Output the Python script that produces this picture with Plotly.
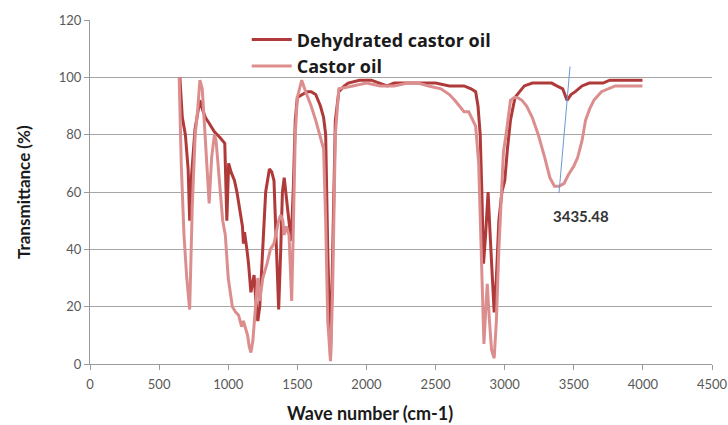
import plotly.graph_objects as go

# Dehydrated castor oil (wavenumber, transmittance)
dco_x = [650, 668, 690, 710, 721, 735, 760, 795, 812, 835, 862, 900, 940, 975, 990, 1003,
         1020, 1045, 1063, 1085, 1103, 1110, 1118, 1135, 1147, 1164, 1178, 1187, 1200, 1214, 1228,
         1250, 1271, 1298, 1315, 1331, 1345, 1355, 1365, 1380, 1392, 1405, 1420, 1440, 1455,
         1470, 1485, 1500, 1532, 1570, 1600, 1633, 1667, 1690, 1705, 1720, 1740, 1755, 1775, 1800,
         1840, 1868, 1950, 2035, 2100, 2150, 2200, 2300, 2400, 2500, 2600, 2706, 2757, 2790, 2807,
         2823, 2835, 2847, 2862, 2880, 2895, 2910, 2924, 2940, 2958, 2980, 3001, 3020, 3042,
         3075, 3142, 3200, 3276, 3340, 3377, 3420, 3451, 3480, 3511, 3560, 3612, 3712, 3760,
         3813, 3900, 3997]
dco_y = [100, 86, 80, 68, 50, 66, 82, 92, 89, 86, 84, 81, 79, 77, 50, 70,
         67, 64, 60, 54, 48, 42, 46, 40, 35, 25, 29, 31, 22, 15, 20,
         40, 60, 68, 67, 64, 45, 30, 19, 40, 60, 65, 58, 50, 43,
         60, 85, 93, 94, 95, 95, 94, 90, 86, 80, 40, 2, 40, 85, 95,
         97, 98, 99, 99, 98, 97, 98, 98, 98, 98, 97, 97, 96, 95, 90,
         80, 60, 35, 45, 60, 45, 30, 18, 30, 50, 60, 64, 75, 85,
         93, 97, 98, 98, 98, 97, 96, 92, 94, 95, 97, 98, 98, 99,
         99, 99, 99]

# Castor oil (wavenumber, transmittance)
co_x = [645, 660, 680, 700, 721, 740, 761, 778, 795, 812, 830, 845, 862, 880, 900, 912, 925,
        940, 960, 979, 1000, 1030, 1055, 1075, 1097, 1110, 1125, 1140, 1152, 1164, 1178, 1195,
        1214, 1228, 1250, 1281, 1305, 1331, 1350, 1365, 1380, 1395, 1405, 1420, 1440, 1452, 1459,
        1470, 1485, 1500, 1532, 1560, 1600, 1633, 1667, 1690, 1705, 1720, 1740, 1755, 1775, 1800,
        1901, 2000, 2100, 2200, 2300, 2371, 2450, 2539, 2600, 2639, 2706, 2740, 2790, 2812,
        2830, 2850, 2862, 2874, 2890, 2905, 2924, 2940, 2958, 2975, 2991, 3010, 3042, 3070,
        3092, 3125, 3159, 3200, 3243, 3290, 3327, 3360, 3394, 3430, 3461, 3500, 3528, 3560,
        3585, 3615, 3645, 3700, 3746, 3800, 3880, 3950, 3997]
co_y = [100, 70, 45, 30, 19, 55, 80, 88, 99, 96, 82, 68, 56, 72, 80, 78, 70,
        60, 50, 45, 30, 20, 18, 17, 13, 15, 12, 10, 6, 4, 8, 20,
        30, 22, 30, 35, 40, 42, 47, 50, 52, 50, 45, 48, 45, 30, 22,
        45, 80, 93, 99, 95, 90, 85, 79, 75, 50, 15, 1, 25, 80, 96,
        97, 98, 97, 97, 98, 98, 97, 96, 94, 92, 88, 88, 83, 70,
        40, 7, 18, 28, 15, 5, 2, 15, 40, 60, 74, 80, 92, 93,
        93, 92, 90, 86, 80, 72, 65, 62, 62, 63, 66, 69, 72, 78,
        85, 89, 92, 95, 96, 97, 97, 97, 97]

dark = "#b03a3a"
light = "#dc8e8e"
font = "Lato"

fig = go.Figure()
fig.add_trace(go.Scatter(x=dco_x, y=dco_y, mode="lines", name="Dehydrated castor oil",
                         line=dict(color=dark, width=3)))
fig.add_trace(go.Scatter(x=co_x, y=co_y, mode="lines", name="Castor oil",
                         line=dict(color=light, width=3)))

# marker line for the 3435.48 peak
fig.add_shape(type="line", xref="x", yref="y", x0=3393, y0=59.6, x1=3473, y1=103.8,
              line=dict(color="#6a98d6", width=1))
fig.add_annotation(x=3555, y=51.5, xref="x", yref="y", text="<b>3435.48</b>", showarrow=False,
                   font=dict(family=font, size=15, color="#333333"))

# axis titles
fig.add_annotation(x=0.45, y=0, xref="paper", yref="paper", yshift=-49, xanchor="center",
                   yanchor="middle", showarrow=False, text="<b>Wave number (cm-1)</b>",
                   font=dict(family=font, size=18, color="#1a1a1a"))
fig.add_annotation(x=0, y=0.5, xref="paper", yref="paper", xshift=-67, xanchor="center",
                   yanchor="middle", showarrow=False, textangle=-90, text="<b>Transmittance (%)</b>",
                   font=dict(family=font, size=17, color="#1a1a1a"))

fig.update_layout(
    width=728, height=425,
    margin=dict(l=90, r=16, t=20, b=61, autoexpand=False),
    paper_bgcolor="white", plot_bgcolor="white",
    font=dict(family=font, color="#595959", size=13),
    showlegend=True,
    legend=dict(x=0.252, y=0.996, xanchor="left", yanchor="top", bgcolor="rgba(0,0,0,0)",
                font=dict(family="Open Sans", size=18, color="#1a1a1a", weight="bold"),
                itemwidth=40, tracegroupgap=0),
    xaxis=dict(range=[0, 4500], dtick=500, tick0=0, showgrid=False, showline=True,
               linecolor="#9a9a9a", linewidth=1, ticks="outside", ticklen=5, tickcolor="#9a9a9a",
               zeroline=False, automargin=False, ticklabelstandoff=3),
    yaxis=dict(range=[0, 120], dtick=20, tick0=0, showgrid=True, gridcolor="#a6a6a6", gridwidth=1,
               showline=True, linecolor="#9a9a9a", linewidth=1, ticks="outside", ticklen=5,
               tickcolor="#9a9a9a", zeroline=False, automargin=False),
)

fig.write_html("out.html", config={"displayModeBar": False},
               post_script="document.body.style.margin='0';document.body.style.overflow='hidden';")
